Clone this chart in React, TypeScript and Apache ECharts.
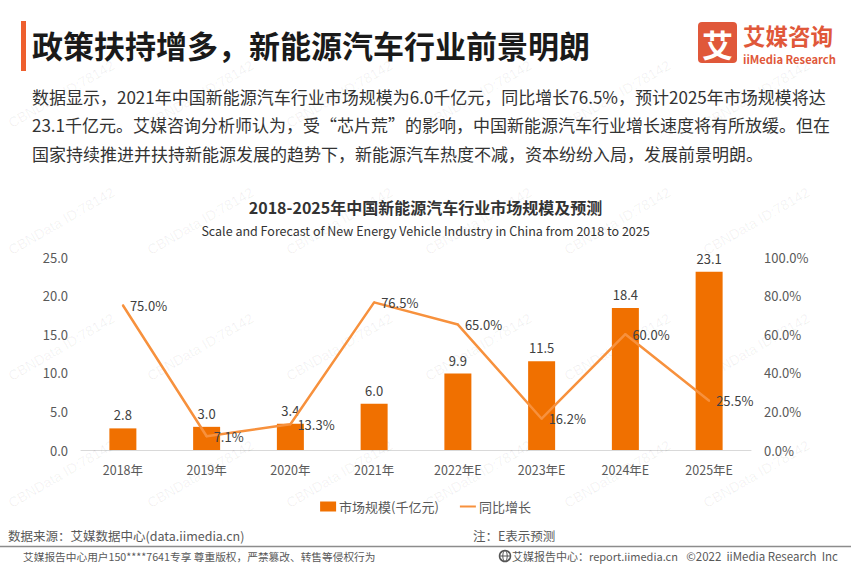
import React, { useEffect, useRef } from "react";
import * as echarts from "echarts";

const categories = ["2018年", "2019年", "2020年", "2021年", "2022年E", "2023年E", "2024年E", "2025年E"];
const marketSize = [2.8, 3.0, 3.4, 6.0, 9.9, 11.5, 18.4, 23.1];
const growthRate = [75.0, 7.1, 13.3, 76.5, 65.0, 16.2, 60.0, 25.5];
const seriesNames = ["市场规模(千亿元)", "同比增长"];

const headline = "政策扶持增多，新能源汽车行业前景明朗";
const paragraph = [
  "数据显示，2021年中国新能源汽车行业市场规模为6.0千亿元，同比增长76.5%，预计2025年市场规模将达",
  "23.1千亿元。艾媒咨询分析师认为，受“芯片荒”的影响，中国新能源汽车行业增长速度将有所放缓。但在",
  "国家持续推进并扶持新能源发展的趋势下，新能源汽车热度不减，资本纷纷入局，发展前景明朗。",
];
const chartTitle = "2018-2025年中国新能源汽车行业市场规模及预测";
const chartSubtitle = "Scale and Forecast of New Energy Vehicle Industry in China from 2018 to 2025";
const sourceText = "数据来源：艾媒数据中心(data.iimedia.cn)";
const noteText = "注：E表示预测";
const copyLeft = "艾媒报告中心用户150****7641专享 尊重版权，严禁篡改、转售等侵权行为";
const copyMid = "艾媒报告中心：report.iimedia.cn";
const copyRight = "©2022  iiMedia Research  Inc";
const watermark = "CBNData ID:78142";
const wmRows = [130, 257, 383, 510];
const wmCols = [13, 152, 291, 430, 569, 708];

const FONT = "'Noto Sans CJK SC', 'Noto Sans', sans-serif";

function txt(x: number, y: number, text: string, size: number, color: string, opts: any = {}) {
  const align = opts.align || "left";
  const valign = opts.valign || "middle";
  return {
    type: "text",
    x,
    y,
    rotation: opts.rotation || 0,
    silent: true,
    z: opts.z ?? 10,
    style: {
      text,
      fill: color,
      fontSize: size,
      fontFamily: opts.family || FONT,
      fontWeight: opts.bold ? "bold" : "normal",
      align,
      textAlign: align,
      verticalAlign: valign,
      textVerticalAlign: valign,
    },
  };
}

export default function App() {
  const ref = useRef<HTMLDivElement>(null);
  useEffect(() => {
    const chart = echarts.init(ref.current!, null, { renderer: "svg" });
    const elements: any[] = [];
    // watermarks
    wmRows.forEach((ry) =>
      wmCols.forEach((cx) =>
        elements.push(
          txt(cx, ry, watermark, 14, "rgba(0,0,0,0.06)", {
            rotation: Math.PI / 6,
            valign: "bottom",
            family: "'Liberation Sans', Arial, sans-serif",
            z: 1,
          })
        )
      )
    );
    // header
    elements.push({ type: "rect", shape: { x: 21, y: 21, width: 5, height: 50 }, style: { fill: "#EE5F2E" }, z: 10 });
    elements.push(txt(32, 44, headline, 31, "#1a1a1a", { bold: true }));
    // logo
    elements.push({ type: "rect", shape: { x: 698, y: 22, width: 39, height: 41, r: 4 }, style: { fill: "#E0583A" }, z: 10 });
    elements.push(txt(717.5, 43, "艾", 31, "#ffffff", { bold: true, align: "center" }));
    elements.push(txt(743, 35, "艾媒咨询", 22.5, "#E0583A", { bold: true }));
    elements.push(txt(743, 58.5, "iiMedia Research", 11.2, "#E0583A", { bold: true }));
    // paragraph
    paragraph.forEach((line, i) => elements.push(txt(32, 96 + i * 28.5, line, 17, "#333333")));
    // chart titles
    elements.push(txt(425.5, 207, chartTitle, 16, "#333333", { bold: true, align: "center" }));
    elements.push(txt(425.5, 230, chartSubtitle, 12.5, "#333333", { align: "center" }));
    // footer
    elements.push(txt(8, 535, sourceText, 12.5, "#595959"));
    elements.push(txt(473, 535, noteText, 12.5, "#595959"));
    elements.push({ type: "line", shape: { x1: 0, y1: 546.5, x2: 851, y2: 546.5 }, style: { stroke: "#8c8c8c", lineWidth: 1.5 }, z: 10 });
    elements.push(txt(23, 556, copyLeft, 10.7, "#595959"));
    elements.push({ type: "circle", shape: { cx: 505, cy: 556, r: 5.5 }, style: { fill: "none", stroke: "#555555", lineWidth: 1.5 }, z: 10 });
    elements.push({ type: "ellipse", shape: { cx: 505, cy: 556, rx: 2.2, ry: 5.5 }, style: { fill: "none", stroke: "#555555", lineWidth: 1 }, z: 10 });
    elements.push({ type: "line", shape: { x1: 499.5, y1: 556, x2: 510.5, y2: 556 }, style: { stroke: "#555555", lineWidth: 1 }, z: 10 });
    elements.push(txt(512, 556, copyMid, 11, "#595959"));
    elements.push(txt(838, 556, copyRight, 11.5, "#595959", { align: "right" }));

    const option: any = {
      animation: false,
      backgroundColor: "#ffffff",
      textStyle: { fontFamily: FONT },
      graphic: { elements },
      grid: { left: 81, right: 100, top: 257, bottom: 117, containLabel: false },
      legend: {
        top: 495,
        left: "center",
        itemWidth: 16,
        itemHeight: 10,
        itemGap: 20,
        textStyle: { color: "#595959", fontSize: 13, fontFamily: FONT, padding: [0, 0, 0, -2] },
        data: [
          { name: seriesNames[0], icon: "rect" },
          { name: seriesNames[1], itemStyle: { opacity: 0 } },
        ],
      },
      xAxis: {
        type: "category",
        data: categories,
        axisLine: { lineStyle: { color: "#d9d9d9", width: 1 } },
        axisTick: { show: false },
        axisLabel: { color: "#595959", fontSize: 12.5, margin: 13 },
      },
      yAxis: [
        {
          type: "value",
          min: 0,
          max: 25,
          interval: 5,
          axisLine: { show: false },
          axisTick: { show: false },
          splitLine: { show: false },
          axisLabel: { color: "#595959", fontSize: 13, margin: 13, formatter: (v: number) => v.toFixed(1) },
        },
        {
          type: "value",
          min: 0,
          max: 100,
          interval: 20,
          axisLine: { show: false },
          axisTick: { show: false },
          splitLine: { show: false },
          axisLabel: { color: "#595959", fontSize: 13, margin: 13, formatter: (v: number) => v.toFixed(1) + "%" },
        },
      ],
      series: [
        {
          name: seriesNames[0],
          type: "bar",
          data: marketSize,
          barWidth: 27,
          itemStyle: { color: "#F07000" },
          label: {
            show: true,
            position: "top",
            distance: 7,
            color: "#404040",
            fontSize: 13,
            formatter: (p: any) => Number(p.value).toFixed(1),
          },
          z: 2,
        },
        {
          name: seriesNames[1],
          type: "line",
          yAxisIndex: 1,
          data: growthRate,
          symbol: "circle",
          symbolSize: 2,
          showSymbol: true,
          lineStyle: { color: "#F7913D", width: 2.5 },
          itemStyle: { color: "#F7913D" },
          label: {
            show: true,
            position: "right",
            distance: 6,
            color: "#404040",
            fontSize: 13,
            formatter: (p: any) => Number(p.value).toFixed(1) + "%",
          },
          z: 3,
        },
      ],
    };
    chart.setOption(option);
    return () => chart.dispose();
  }, []);
  return <div ref={ref} style={{ position: "absolute", left: 0, top: 0, width: 851, height: 567 }} />;
}
